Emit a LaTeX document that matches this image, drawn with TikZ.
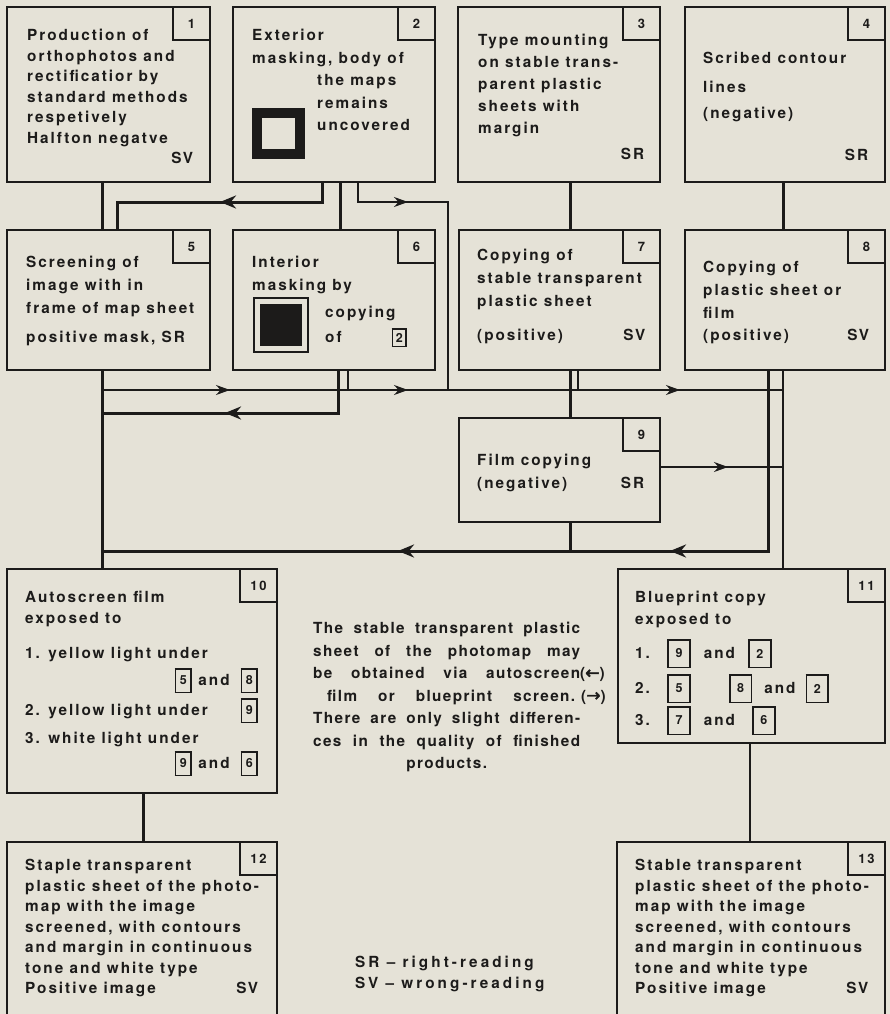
\documentclass[tikz,border=0pt]{standalone}
\usepackage{fontspec}
\setmainfont{Liberation Sans}
\newfontfamily\boxfont{texgyreheros-bold}[Extension=.otf,LetterSpace=13]
\newfontfamily\notefont{texgyreheros-bold}[Extension=.otf,LetterSpace=9]
\newfontfamily\legfont{texgyreheros-bold}[Extension=.otf,LetterSpace=20]
\newfontfamily\arrowfont{DejaVu Sans}[FakeBold=2.5]
\usetikzlibrary{arrows.meta,decorations.markings}
\definecolor{paper}{RGB}{229,226,215}
\definecolor{ink}{RGB}{28,27,26}
\newcommand\numbox[3]{\smash{\raisebox{1.5pt}{\setlength\fboxrule{1.8pt}\setlength\fboxsep{0pt}\fbox{\parbox[c][#2][c]{#1}{\centering\fontsize{12.5}{12.5}\selectfont #3}}}}}
\newcommand\spread[3]{\makebox[#1][l]{#2\hfill #3}}
\begin{document}
\begin{tikzpicture}[x=1pt,y=-1pt,
  box/.style={draw=ink,line width=2.8pt,rectangle,inner sep=0pt,outer sep=0pt,anchor=north west},
  numtab/.style={draw=ink,line width=2.6pt,inner sep=0pt,outer sep=0pt,anchor=north east,
    minimum width=37pt,minimum height=33pt,text=ink,font=\boxfont\fontsize{13}{14}\selectfont},
  txt/.style={anchor=north west,inner sep=0pt,align=left,text=ink},
  lead/.style={font=\boxfont\fontsize{15.3}{#1}\selectfont},
  conn/.style={ink,line width=3pt},
  fine/.style={ink,line width=1.3pt},
  tip/.style={postaction={decorate,decoration={markings,mark=at position #1 with {\arrow{Stealth[length=16pt,width=13pt]}}}}},
  ftip/.style={postaction={decorate,decoration={markings,mark=at position #1 with {\arrow{Stealth[length=14pt,width=10pt]}}}}}]
  \useasboundingbox (0,0) rectangle (890,1014);
  \clip (0,0) rectangle (890,1014);
  \fill[paper] (0,0) rectangle (890,1014);

  \node[box,minimum width=203pt,minimum height=175pt] (b1) at (7,7) {};
  \node[box,minimum width=202pt,minimum height=175pt] (b2) at (233,7) {};
  \node[box,minimum width=202pt,minimum height=175pt] (b3) at (458,7) {};
  \node[box,minimum width=200pt,minimum height=175pt] (b4) at (685,7) {};
  \node[box,minimum width=203pt,minimum height=140pt] (b5) at (7,230) {};
  \node[box,minimum width=202pt,minimum height=140pt] (b6) at (233,230) {};
  \node[box,minimum width=201pt,minimum height=140pt] (b7) at (459,230) {};
  \node[box,minimum width=200pt,minimum height=140pt] (b8) at (685,230) {};
  \node[box,minimum width=201pt,minimum height=104pt] (b9) at (459,418) {};
  \node[box,minimum width=270pt,minimum height=224pt] (b10) at (7,569) {};
  \node[box,minimum width=267pt,minimum height=174pt] (b11) at (618,569) {};
  \node[box,minimum width=270pt,minimum height=200pt] (b12) at (7,842) {};
  \node[box,minimum width=268pt,minimum height=200pt] (b13) at (617,842) {};
  \foreach \b in {1,...,13} \node[numtab] (n\b) at (b\b.north east) {\b};

  \coordinate (A0) at (322,202); \coordinate (A1) at (117,202);
  \coordinate (B0) at (358,202); \coordinate (B1) at (448,202);
  \coordinate (R0) at (102,390); \coordinate (R1) at (783,390);
  \coordinate (R2) at (348,390); \coordinate (R3) at (578,390);
  \coordinate (S0) at (102,413); \coordinate (S1) at (338,413);
  \coordinate (U0) at (102,551); \coordinate (U1) at (768,551);
  \coordinate (U2) at (570,551);

  \draw[conn] (b1.south -| R0) -- (b5.north -| R0);
  \draw[conn,tip=122pt] (b2.south -| A0) -- (A0) -- (A1) -- (b5.north -| A1);
  \draw[conn] ([xshift=107pt]b2.south west) -- ([xshift=107pt]b6.north west);
  \draw[conn] (b3.south -| U2) -- (b7.north -| U2);
  \draw[conn] (b4.south -| R1) -- (b8.north -| R1);
  \draw[conn] (b5.south -| R0) -- (b10.north -| R0);
  \draw[conn,tip=156pt] (b6.south -| S1) -- (S1) -- (S0);
  \draw[conn] (b7.south -| U2) -- (b9.north -| U2);
  \draw[conn,tip=279pt,tip=551pt] (b8.south -| U1) -- (U1) -- (U0);
  \draw[conn] (b9.south -| U2) -- (U2);
  \draw[conn] ([xshift=136pt]b10.south west) -- ([xshift=136pt]b12.north west);
  \draw[fine,ftip=70pt] (b2.south -| B0) -- (B0) -- (B1) -- (B1 |- R0);
  \draw[fine,ftip=128pt,ftip=306pt,ftip=578pt] (R0) -- (R1);
  \draw[fine] (b6.south -| R2) -- (R2);
  \draw[fine] (b7.south -| R3) -- (R3);
  \draw[fine] (b8.south -| R1) -- (b11.north -| R1);
  \draw[fine,ftip=68pt] ([yshift=3pt]b9.east) -- ([yshift=3pt]b9.east -| R1);
  \draw[fine] ([xshift=132pt]b11.south west) -- ([xshift=133pt]b13.north west);

  \draw[ink,line width=10pt] (257,113) rectangle (300,154);
  \draw[ink,line width=1.4pt] (254,298) rectangle (308,352);
  \fill[ink] (260,304) rectangle (302,346);

  \node[txt,lead=20.5pt] (t1) at (27,29) {Production of\\orthophotos and\\rectificatior by\\standard methods\\respetively\\Halfton negatve\\\spread{166pt}{}{SV}};
  \node[txt,lead=22.5pt] (t2) at (252,29) {Exterior\\masking, body of\\\hspace*{65pt}the maps\\\hspace*{65pt}remains\\\hspace*{65pt}uncovered};
  \node[txt,lead=22pt] (t3) at (478,34) {Type mounting\\on stable trans-\\parent plastic\\sheets with\\margin\\[4pt]\spread{166pt}{}{SR}};
  \node[txt,lead=20.5pt] (t4) at (703,52) {Scribed contour\\[8.5pt]lines\\[5.5pt](negative)\\[21.5pt]\spread{165pt}{}{SR}};
  \node[txt,lead=23pt] (t5) at (26,256) {Screening of\\image with in\\frame of map sheet\\[6pt]positive mask, SR};
  \node[txt,lead=23pt] (t6) at (252,256) {Interior\\masking by\\[4pt]\hspace*{73pt}copying\\[2pt]\hspace*{73pt}\spread{82pt}{of}{\numbox{12pt}{16pt}{2}}};
  \node[txt,lead=23pt] (t7) at (477,249) {Copying of\\stable transparent\\plastic sheet\\[11pt]\spread{168pt}{(positive)}{SV}};
  \node[txt,lead=22.7pt] (t8) at (703,261) {Copying of\\plastic sheet or\\film\\\spread{166pt}{(positive)}{SV}};
  \node[txt,lead=23pt] (t9) at (477,454) {Film copying\\\spread{167pt}{(negative)}{SR}};
  \node[txt,lead=21pt] (t10) at (25,591) {Autoscreen film\\exposed to\\[14pt]1. yellow light under\\[6pt]\spread{233pt}{}{\numbox{14pt}{22pt}{5} and\hspace{11pt}\numbox{14pt}{22pt}{8}}\\[9pt]\spread{233pt}{2. yellow light under}{\numbox{14pt}{22pt}{9}}\\[7pt]3. white light under\\[4pt]\spread{233pt}{}{\numbox{14pt}{22pt}{9} and\hspace{11pt}\numbox{14pt}{22pt}{6}}};
  \node[txt,lead=22pt] (t11) at (635,591) {Blueprint copy\\exposed to\\[12pt]\makebox[32pt][l]{1.}\numbox{20pt}{26pt}{9}\hspace{13pt}and\hspace{13pt}\numbox{20pt}{26pt}{2}\\[13pt]\makebox[32pt][l]{2.}\numbox{20pt}{26pt}{5}\hspace{38pt}\numbox{20pt}{26pt}{8}\hspace{12pt}and\hspace{10pt}\numbox{20pt}{26pt}{2}\\[10pt]\makebox[32pt][l]{3.}\numbox{20pt}{26pt}{7}\hspace{13pt}and\hspace{17pt}\numbox{20pt}{26pt}{6}};
  \node[txt,lead=20.5pt] (t12) at (25,859) {Staple transparent\\plastic sheet of the photo-\\map with the image\\screened, with contours\\and margin in continuous\\tone and white type\\\spread{233pt}{Positive image}{SV}};
  \node[txt,lead=20.5pt] (t13) at (635,859) {Stable transparent\\plastic sheet of the photo-\\map with the image\\screened, with contours\\and margin in continuous\\tone and white type\\\spread{233pt}{Positive image}{SV}};
  \node[txt,font=\notefont\fontsize{15.3}{22.5pt}\selectfont] (t0) at (313,622) {\makebox[267pt][s]{The stable transparent plastic}\\\makebox[267pt][s]{sheet of the photomap may}\\\makebox[267pt][s]{be obtained via autoscreen}({\arrowfont\fontsize{17}{17}\selectfont ←})\\\hspace*{14pt}\makebox[248pt][s]{film or blueprint screen.}\hspace{6pt}({\arrowfont\fontsize{17}{17}\selectfont →})\\\makebox[267pt][s]{There are only slight differen-}\\\makebox[267pt][s]{ces in the quality of finished}\\\makebox[267pt][c]{products.}};
  \node[txt,font=\legfont\fontsize{15.3}{21pt}\selectfont] (t14) at (355,956) {SR – right-reading\\SV – wrong-reading};
\end{tikzpicture}
\end{document}
